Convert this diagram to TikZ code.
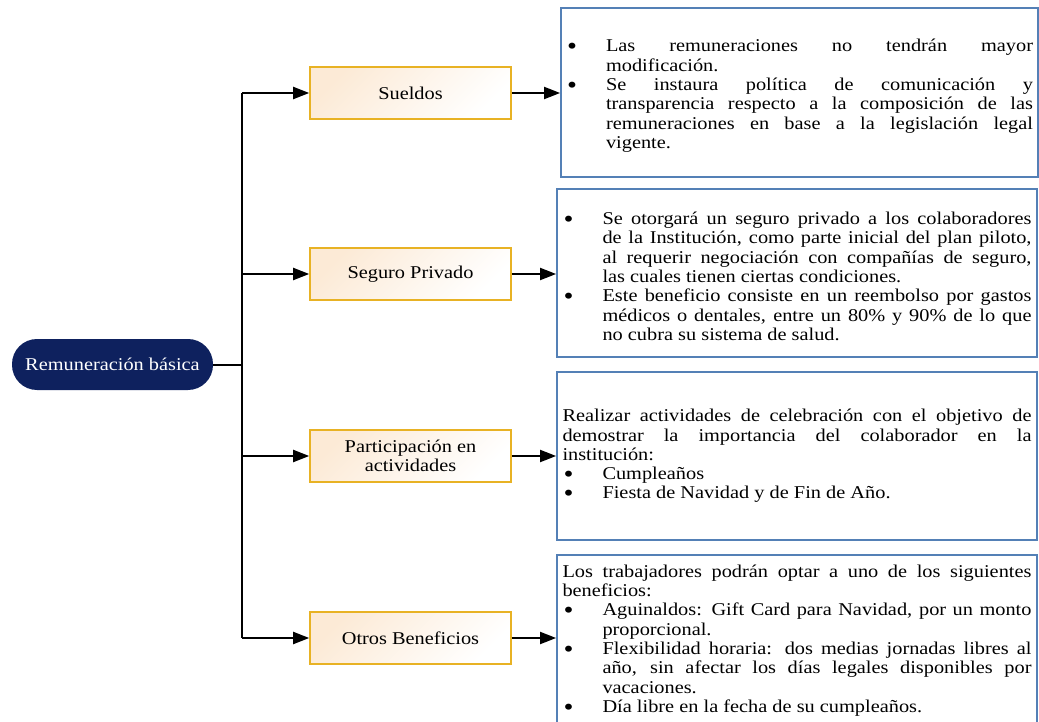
\documentclass[tikz,border=0pt]{standalone}
\usepackage{fontspec}
\setmainfont{Liberation Serif}[FakeStretch=1.13]
\usetikzlibrary{arrows.meta}

\definecolor{navy}{RGB}{14,33,94}
\definecolor{gold}{RGB}{232,178,36}
\definecolor{peach}{RGB}{252,234,214}
\definecolor{steel}{RGB}{84,128,182}

% bullet item with hanging indent
\newcommand\bitem[1]{\par\noindent\hangindent=40pt\hangafter=1
  \makebox[40pt][l]{\hspace{1pt}\smash{\raisebox{-2.8pt}{\scalebox{1.4}{\textbullet}}}}#1\par}

\begin{document}
\begin{tikzpicture}[x=1pt,y=-1pt,
  txt/.style={font=\fontsize{18}{19.3}\selectfont},
  rootnode/.style={txt, text=white, fill=navy, rounded corners=25pt,
    minimum width=201pt, minimum height=51pt, inner sep=0pt},
  topic/.style={txt, draw=gold, line width=1.6pt, top color=peach,
    bottom color=white, shading angle=45, minimum width=201pt,
    minimum height=52pt, inner sep=0pt, align=center},
  detail/.style={txt, draw=steel, line width=1.8pt, inner xsep=0pt,
    inner ysep=0pt, align=justify, minimum width=480pt,
    text width=469pt, execute at begin node={\tolerance=10000
      \hbadness=10000\hyphenpenalty=10000\parindent=0pt\parskip=0pt}},
  wire/.style={line width=2pt},
  link/.style={line width=2pt, -{Triangle[length=16pt,width=12pt]}}
]
\path[use as bounding box, clip] (0,0) rectangle (1039,722);

% root and trunk
\node[rootnode] (root) at (112.5,364.5) {Remuneración básica};
\coordinate (trunktop) at (242,93);
\coordinate (trunkbot) at (242,638);

% topic boxes
\node[topic] (sueldos) at (410.5,93) {Sueldos};
\node[topic] (seguro) at (410.5,274) {Seguro Privado};
\node[topic] (partic) at (410.5,456) {Participación en\\actividades};
\node[topic] (otros) at (410.5,638) {Otros Beneficios};

% detail boxes
\node[detail, minimum width=477pt, text width=467pt, minimum height=169pt]
  (d1) at (799.5,92.5) {%
\bitem{Las remuneraciones no tendrán mayor\linebreak modificación.}
\bitem{Se instaura política de comunicación y\linebreak transparencia respecto a la composición de las\linebreak remuneraciones en base a la legislación legal\linebreak vigente.}};

\node[detail, minimum height=168pt] (d2) at (797,273) {%
\bitem{Se otorgará un seguro privado a los colaboradores\linebreak de la Institución, como parte inicial del plan piloto,\linebreak al requerir negociación con compañías de seguro,\linebreak las cuales tienen ciertas condiciones.}
\bitem{Este beneficio consiste en un reembolso por gastos\linebreak médicos o dentales, entre un 80\% y 90\% de lo que\linebreak no cubra su sistema de salud.}};

\node[detail, minimum height=168pt] (d3) at (797,456) {%
\noindent Realizar actividades de celebración con el objetivo de\linebreak demostrar la importancia del colaborador en la\linebreak institución:\par
\bitem{Cumpleaños}
\bitem{Fiesta de Navidad y de Fin de Año.}};

\node[detail, minimum height=171pt] (d4) at (797,640.5) {%
\noindent Los trabajadores podrán optar a uno de los siguientes\linebreak beneficios:\par
\bitem{Aguinaldos: Gift Card para Navidad, por un monto\linebreak proporcional.}
\bitem{Flexibilidad horaria: dos medias jornadas libres al\linebreak año, sin afectar los días legales disponibles por\linebreak vacaciones.}
\bitem{Día libre en la fecha de su cumpleaños.}};

% connectors
\draw[wire] (root.east) -- (root.east -| trunktop);
\draw[wire] (trunktop) -- (trunkbot);
\draw[link] (trunktop) -- (sueldos.west);
\draw[link] (seguro.west -| trunktop) -- (seguro.west);
\draw[link] (partic.west -| trunktop) -- (partic.west);
\draw[link] (trunkbot) -- (otros.west);

\draw[link] (sueldos.east) -- (sueldos.east -| d1.west);
\draw[link] (seguro.east) -- (seguro.east -| d2.west);
\draw[link] (partic.east) -- (partic.east -| d3.west);
\draw[link] (otros.east) -- (otros.east -| d4.west);
\end{tikzpicture}
\end{document}
